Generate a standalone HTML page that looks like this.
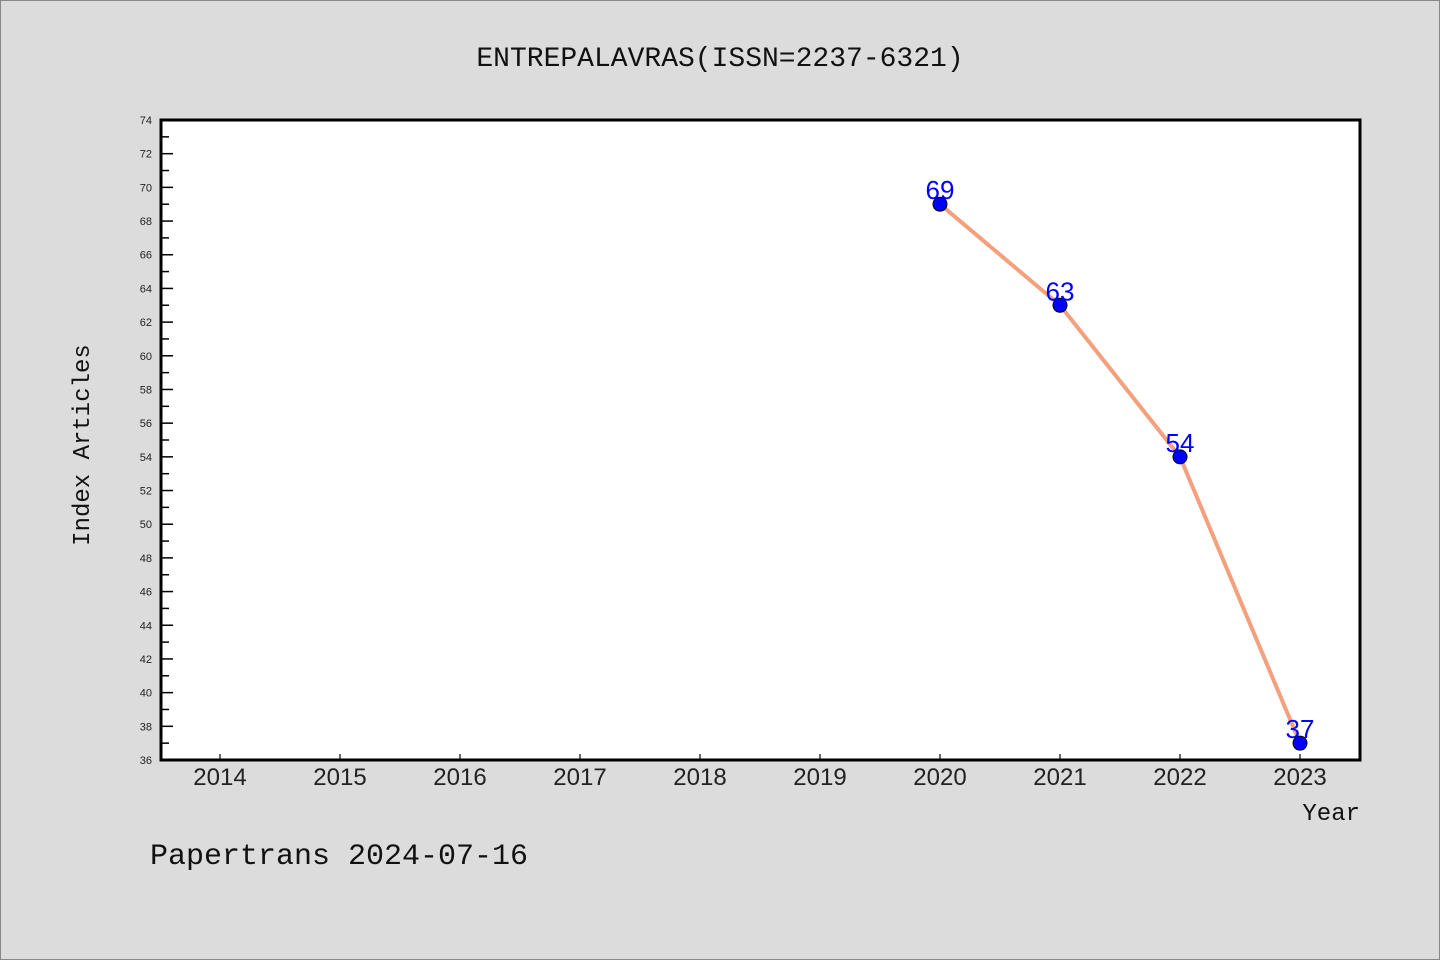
<!DOCTYPE html>
<html><head><meta charset="utf-8"><style>
html,body{margin:0;padding:0;background:#dcdcdc;}
svg{display:block;font-family:"Liberation Sans","DejaVu Sans",sans-serif;}
</style></head><body>
<svg id="chart" width="1440" height="960" xmlns="http://www.w3.org/2000/svg">
<rect x="0.5" y="0.5" width="1439" height="959" fill="#dcdcdc" stroke="#888"/>
<text x="720" y="66" text-anchor="middle" font-size="28" fill="#111" font-family="Liberation Mono, DejaVu Sans Mono, monospace">ENTREPALAVRAS(ISSN=2237-6321)</text>
<rect x="161" y="120" width="1199" height="640" fill="#fff"/>
<g id="yaxis"></g>
<g id="xaxis"></g>
<g id="series"></g>
<rect x="161" y="120" width="1199" height="640" fill="none" stroke="#000" stroke-width="3"/>
<text transform="translate(89,445) rotate(-90)" text-anchor="middle" font-size="24" fill="#111" font-family="Liberation Mono, DejaVu Sans Mono, monospace">Index Articles</text>
<text x="1360" y="820" text-anchor="end" font-size="24" fill="#111" font-family="Liberation Mono, DejaVu Sans Mono, monospace">Year</text>
<text x="150" y="864" font-size="30" fill="#111" font-family="Liberation Mono, DejaVu Sans Mono, monospace">Papertrans 2024-07-16</text>
</svg>
<script>
const years = [2014,2015,2016,2017,2018,2019,2020,2021,2022,2023];
const dataYears = [2020,2021,2022,2023];
const values = [69,63,54,37];
const yMin = 36, yMax = 74;
const NS = "http://www.w3.org/2000/svg";
function xs(y){ return 220 + (y - 2014) * 120; }
function ys(v){ return 760 - (v - yMin) / (yMax - yMin) * 640; }
function mk(tag, attrs, parent){ const e=document.createElementNS(NS,tag); for(const k in attrs) e.setAttribute(k,attrs[k]); parent.appendChild(e); return e; }
const ya=document.getElementById('yaxis'), xa=document.getElementById('xaxis'), se=document.getElementById('series');
for(let v=yMin; v<=yMax; v++){
  const major = (v - yMin) % 2 === 0;
  const t = mk('line',{x1:161,x2:161+(major?12:8),y1:ys(v),y2:ys(v),stroke:'#000','stroke-width':1.5},ya);
  
  
  if(major){
    const l = mk('text',{x:152,y:ys(v)+4,'text-anchor':'end','font-size':11,fill:'#222'},ya);
    l.textContent = v;
    
    
  }
}
years.forEach(y=>{
  const t = mk('line',{x1:xs(y),x2:xs(y),y1:760,y2:754,stroke:'#000','stroke-width':1.2},xa);
  
  
  const l = mk('text',{x:xs(y),y:785,'text-anchor':'middle','font-size':24,fill:'#222'},xa);
  l.textContent = y;
  
  
});
const pts = dataYears.map((y,i)=>xs(y)+','+ys(values[i])).join(' ');
const line = mk('polyline',{points:pts,fill:'none',stroke:'#f4a07c','stroke-width':4,'stroke-linejoin':'round'},se);


dataYears.forEach((y,i)=>{
  const c = mk('circle',{cx:xs(y),cy:ys(values[i]),r:7,fill:'#0000ff',stroke:'#000','stroke-width':1},se);
  
  
  const l = mk('text',{x:xs(y),y:ys(values[i])-5,'text-anchor':'middle','font-size':26,fill:'#0000ff'},se);
  l.textContent = values[i];
  
  
});
</script>
</body></html>
